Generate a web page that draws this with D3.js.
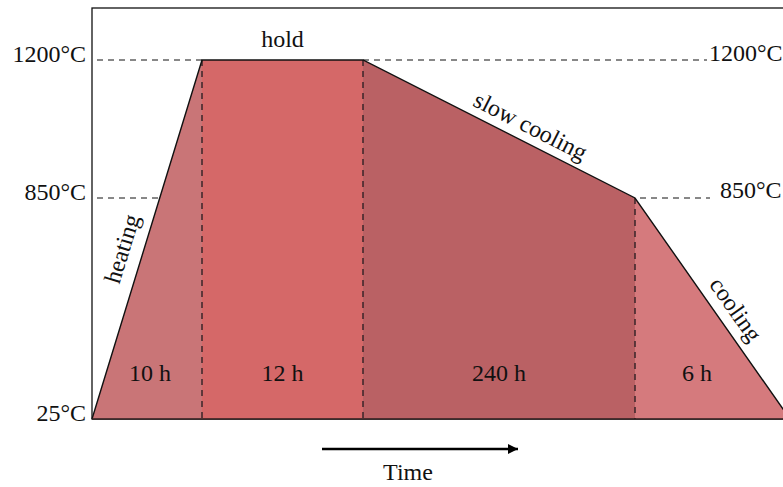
<!DOCTYPE html>
<html>
<head>
<meta charset="utf-8">
<script src="https://cdn.jsdelivr.net/npm/d3@7"></script>
<style>
  html, body { margin: 0; padding: 0; background: #fff; overflow: hidden; }
  svg { display: block; }
  text { font-family: "Liberation Serif", "Times New Roman", serif; fill: #111; }
</style>
</head>
<body>
<svg id="chart" width="783" height="487"></svg>
<script>
// ---- data ----
const stageNames = ["heating", "hold", "slow cooling", "cooling"];
const stageDurations = ["10 h", "12 h", "240 h", "6 h"];
const stageColors = ["#c97577", "#d56868", "#ba6164", "#d57a7d"];
// schematic time (not to scale) and temperature of the profile break points
const profileTime = [0, 110, 271, 543, 698];
const profileTemp = [25, 1200, 1200, 850, 25];
const tempTicks = [25, 850, 1200];
const tempTickLabels = ["25°C", "850°C", "1200°C"];

// ---- layout ----
const svg = d3.select("#chart");
const margin = { left: 92, top: 8, bottom: 419 };
const x = d3.scaleLinear().domain([0, 698]).range([92, 790]);
const y = d3.scaleLinear().domain([25, 850, 1200]).range([419, 198, 60]);

const pts = profileTime.map((t, i) => ({ t, v: profileTemp[i] }));

// frame
svg.append("rect")
  .attr("x", margin.left).attr("y", margin.top)
  .attr("width", 760).attr("height", margin.bottom - margin.top)
  .attr("fill", "none").attr("stroke", "#111").attr("stroke-width", 1.3);

// stage areas
const area = d3.area().x(d => x(d.t)).y0(y(25)).y1(d => y(d.v));
stageNames.forEach((s, i) => {
  svg.append("path")
    .attr("d", area([pts[i], pts[i + 1]]))
    .attr("fill", stageColors[i]);
});

// horizontal dashed reference lines
const dash = "6,5";
function hdash(x1, x2, v) {
  svg.append("line")
    .attr("x1", x1).attr("x2", x2).attr("y1", y(v)).attr("y2", y(v))
    .attr("stroke", "#111").attr("stroke-width", 1).attr("stroke-dasharray", dash);
}
// 1200 left and right
hdash(x(0) + 5, x(profileTime[1]), 1200);
hdash(x(profileTime[2]), 707, 1200);
// 850 left: up to heating line (pixel-space intersection)
const x0 = x(profileTime[0]), x1 = x(profileTime[1]);
const y0 = y(profileTemp[0]), y1 = y(profileTemp[1]);
const heatX = x0 + (x1 - x0) * (y0 - y(850)) / (y0 - y1);
hdash(x(0) + 5, heatX, 850);
hdash(x(profileTime[3]) + 5, 710, 850);

// vertical dashed stage separators
[1, 2, 3].forEach(i => {
  svg.append("line")
    .attr("x1", x(profileTime[i])).attr("x2", x(profileTime[i]))
    .attr("y1", y(profileTemp[i])).attr("y2", y(25))
    .attr("stroke", "#3a2528").attr("stroke-width", 1.5).attr("stroke-dasharray", dash);
});

// profile line
svg.append("path")
  .attr("d", d3.line().x(d => x(d.t)).y(d => y(d.v))(pts))
  .attr("fill", "none").attr("stroke", "#111").attr("stroke-width", 1.4);
// bottom axis line
svg.append("line")
  .attr("x1", x(0)).attr("x2", 800).attr("y1", y(25)).attr("y2", y(25))
  .attr("stroke", "#2a1c1c").attr("stroke-width", 1.6);

const fs = 24;
// left temperature labels
tempTicks.forEach((v, i) => {
  svg.append("text")
    .attr("x", x(0) - 6).attr("y", y(v) + 2)
    .attr("text-anchor", "end").attr("font-size", fs)
    .text(tempTickLabels[i]);
});
// right temperature labels
svg.append("text").attr("x", 709).attr("y", y(1200) + 1).attr("font-size", fs).text(tempTickLabels[2]);
svg.append("text").attr("x", 720).attr("y", y(850) + 0).attr("font-size", fs).text(tempTickLabels[1]);

// duration labels
stageDurations.forEach((d, i) => {
  let cx = (x(profileTime[i]) + x(profileTime[i + 1])) / 2;
  if (i === 0) cx = 150;
  if (i === 3) cx = 697;
  svg.append("text")
    .attr("x", cx).attr("y", 381)
    .attr("text-anchor", "middle").attr("font-size", fs)
    .text(d);
});

// stage name labels along the profile
function slopeLabel(i, cx, cy, offset) {
  const a = Math.atan2(y(profileTemp[i + 1]) - y(profileTemp[i]), x(profileTime[i + 1]) - x(profileTime[i])) * 180 / Math.PI;
  svg.append("text")
    .attr("transform", `translate(${cx},${cy}) rotate(${a})`)
    .attr("text-anchor", "middle").attr("y", offset).attr("font-size", fs)
    .text(stageNames[i]);
}
slopeLabel(0, 123, 249, 7);
svg.append("text")
  .attr("x", (x(profileTime[1]) + x(profileTime[2])) / 2).attr("y", 47)
  .attr("text-anchor", "middle").attr("font-size", fs).text(stageNames[1]);
slopeLabel(2, 530, 127, 7);
slopeLabel(3, 735, 310, 7);

// time arrow
svg.append("defs").append("marker")
  .attr("id", "arr").attr("viewBox", "0 0 10 10").attr("refX", 10).attr("refY", 5)
  .attr("markerWidth", 18).attr("markerHeight", 10).attr("markerUnits", "userSpaceOnUse")
  .attr("orient", "auto")
  .append("path").attr("d", "M0,0 L10,5 L0,10 Z").attr("fill", "#000");
svg.append("line")
  .attr("x1", 322).attr("x2", 518).attr("y1", 449).attr("y2", 449)
  .attr("stroke", "#000").attr("stroke-width", 2.5).attr("marker-end", "url(#arr)");
svg.append("text").attr("x", 408).attr("y", 480).attr("text-anchor", "middle")
  .attr("font-size", fs).text("Time");
</script>
</body>
</html>
